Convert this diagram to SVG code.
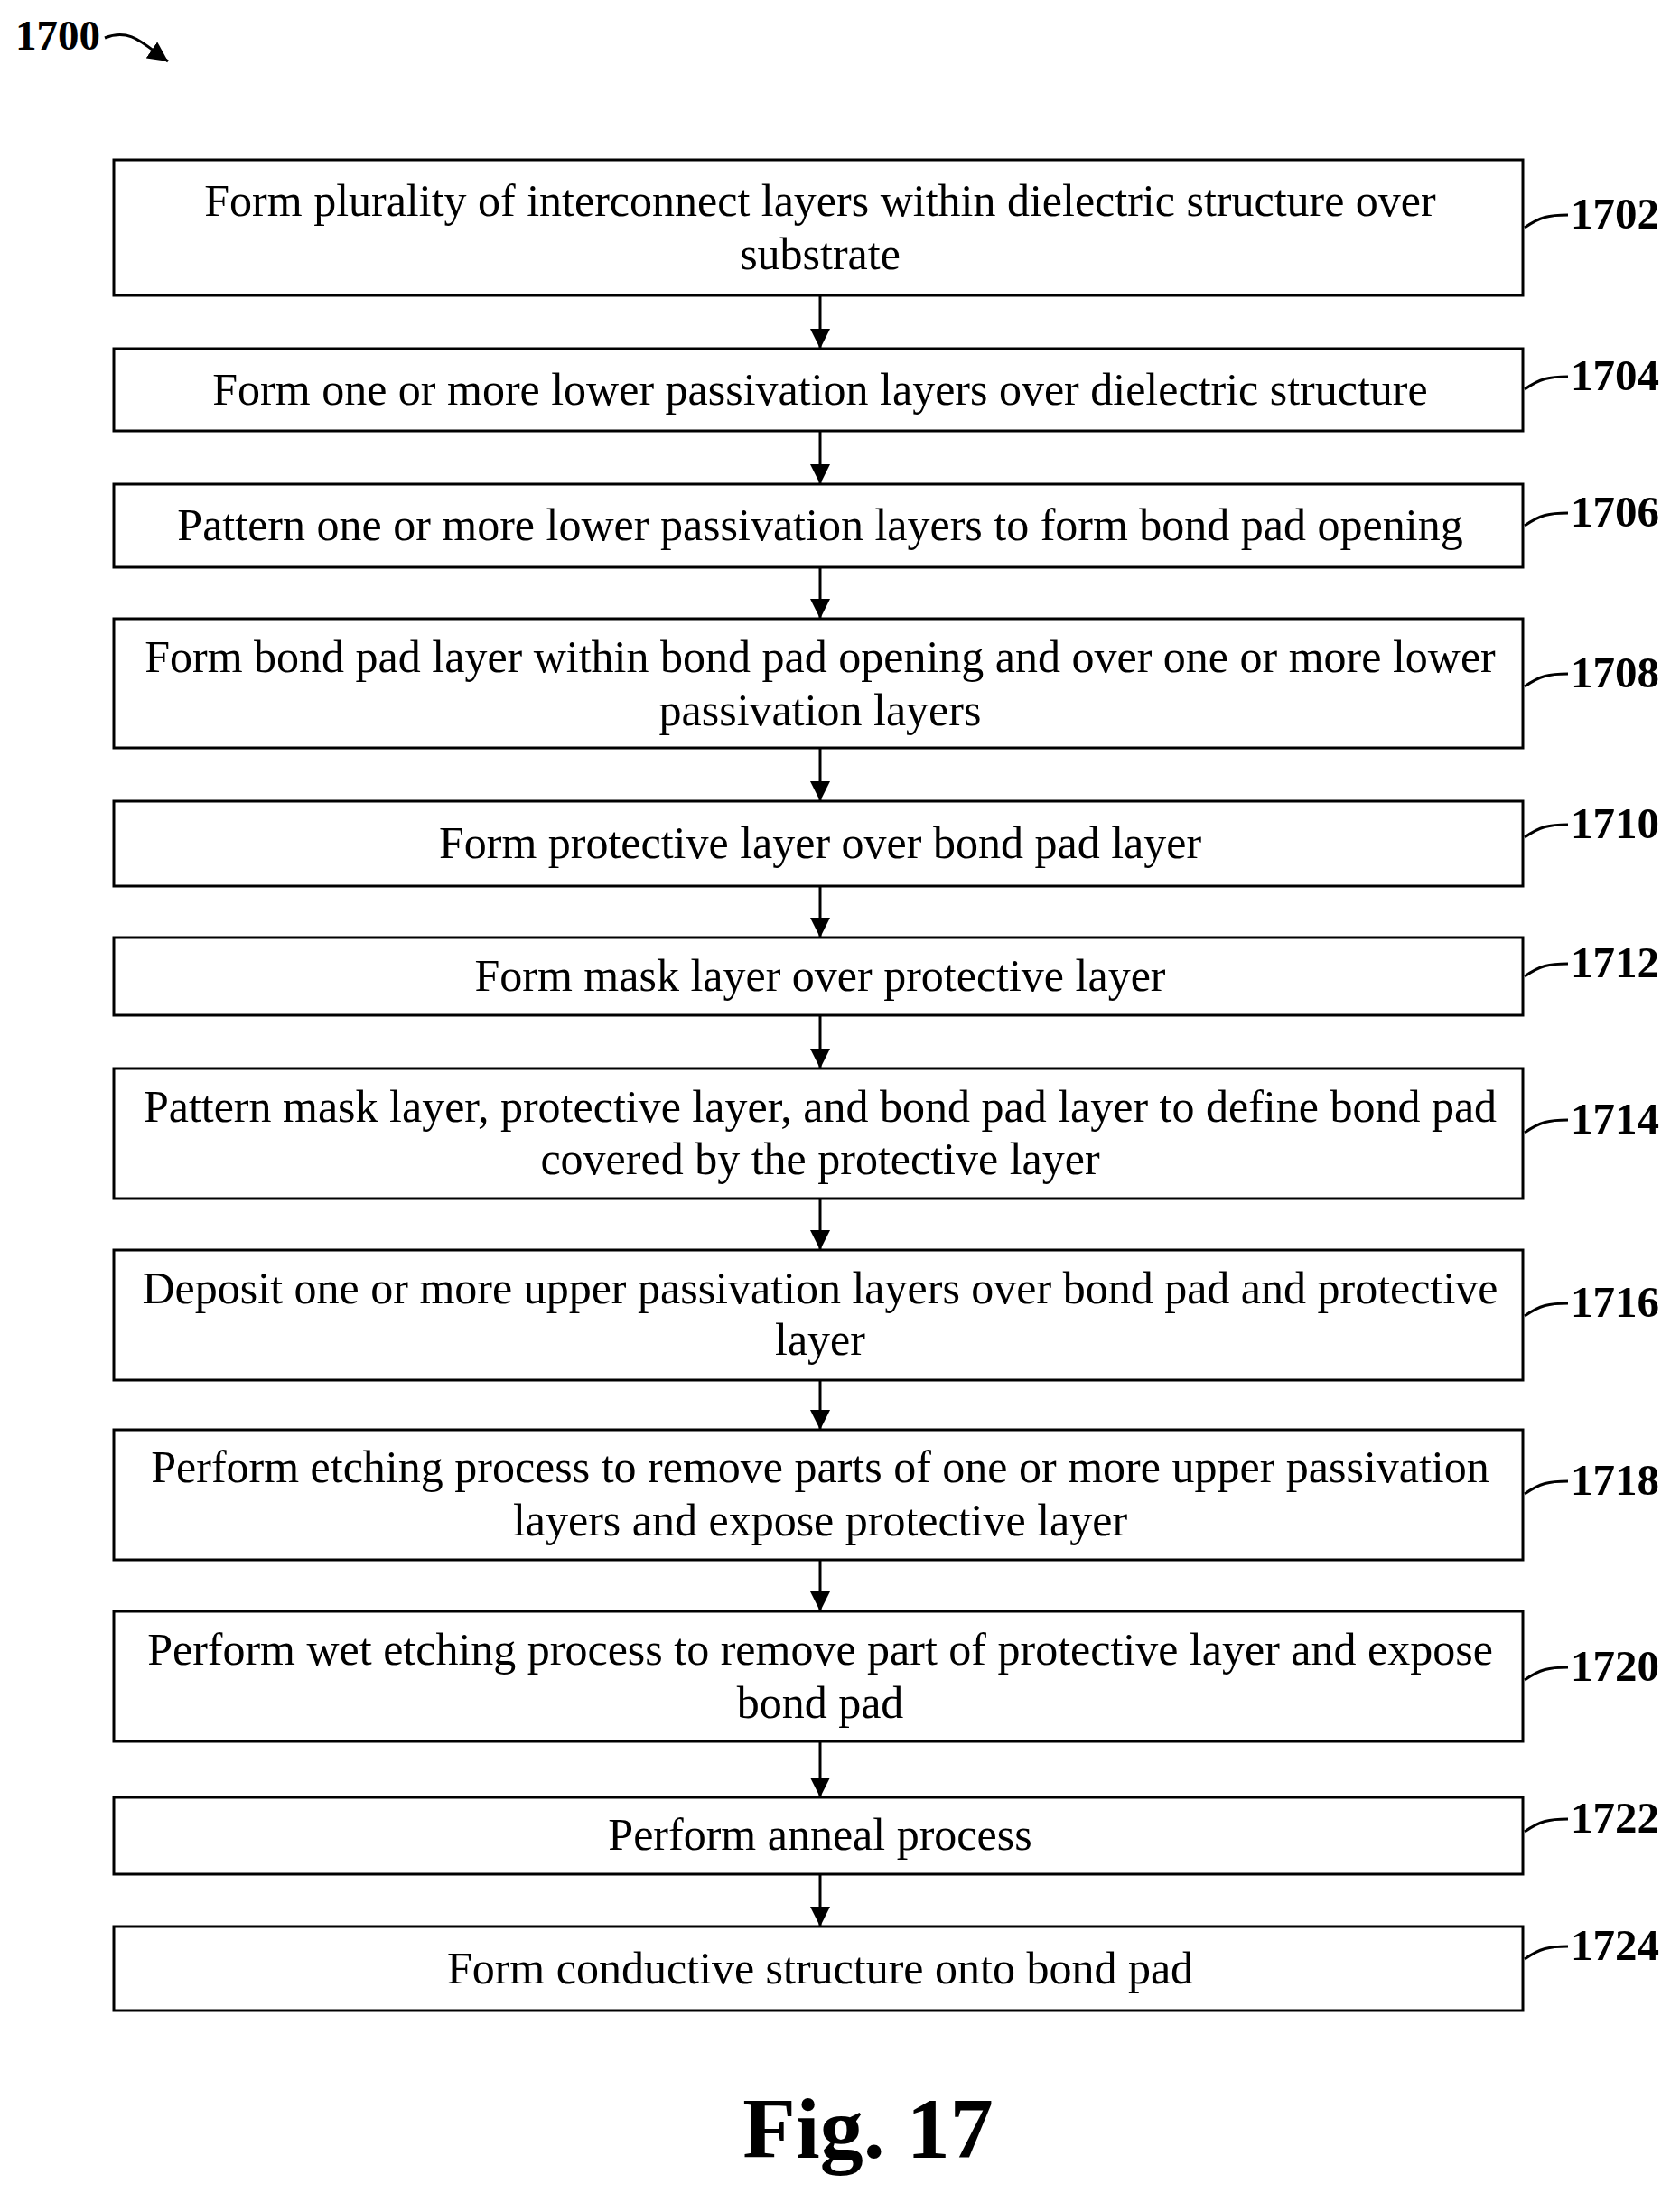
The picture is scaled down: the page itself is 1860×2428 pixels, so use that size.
<svg xmlns="http://www.w3.org/2000/svg" width="1860" height="2428" viewBox="0 0 1860 2428">
<style>
.b{fill:#fff;stroke:#000;stroke-width:3}
.t{font-family:"Liberation Serif",serif;font-size:50px;text-anchor:middle;dominant-baseline:central}
.l{font-family:"Liberation Serif",serif;font-size:49px;font-weight:bold;dominant-baseline:central}
.c{fill:none;stroke:#000;stroke-width:3}
</style>
<defs>
<marker id="h" viewBox="0 0 10 10" refX="10" refY="5" markerWidth="22" markerHeight="22" markerUnits="userSpaceOnUse" orient="auto"><path d="M0,0L10,5L0,10z"/></marker></defs>
<text x="17" y="39" class="l" style="font-size:47px">1700</text>
<path class="c" d="M116,42 C145,30 160,50 186,68" marker-end="url(#h)"/>
<g id="n1702"><rect class="b" x="126" y="177" width="1560" height="150"/><text class="t" x="908" y="222">Form plurality of interconnect layers within dielectric structure over</text><text class="t" x="908" y="281">substrate</text></g>
<g id="n1704"><rect class="b" x="126" y="386" width="1560" height="91"/><text class="t" x="908" y="431">Form one or more lower passivation layers over dielectric structure</text></g>
<g id="n1706"><rect class="b" x="126" y="536" width="1560" height="92"/><text class="t" x="908" y="581">Pattern one or more lower passivation layers to form bond pad opening</text></g>
<g id="n1708"><rect class="b" x="126" y="685" width="1560" height="143"/><text class="t" x="908" y="727">Form bond pad layer within bond pad opening and over one or more lower</text><text class="t" x="908" y="786">passivation layers</text></g>
<g id="n1710"><rect class="b" x="126" y="887" width="1560" height="94"/><text class="t" x="908" y="933">Form protective layer over bond pad layer</text></g>
<g id="n1712"><rect class="b" x="126" y="1038" width="1560" height="86"/><text class="t" x="908" y="1080">Form mask layer over protective layer</text></g>
<g id="n1714"><rect class="b" x="126" y="1183" width="1560" height="144"/><text class="t" x="908" y="1225">Pattern mask layer, protective layer, and bond pad layer to define bond pad</text><text class="t" x="908" y="1283">covered by the protective layer</text></g>
<g id="n1716"><rect class="b" x="126" y="1384" width="1560" height="144"/><text class="t" x="908" y="1426">Deposit one or more upper passivation layers over bond pad and protective</text><text class="t" x="908" y="1483">layer</text></g>
<g id="n1718"><rect class="b" x="126" y="1583" width="1560" height="144"/><text class="t" x="908" y="1624">Perform etching process to remove parts of one or more upper passivation</text><text class="t" x="908" y="1683">layers and expose protective layer</text></g>
<g id="n1720"><rect class="b" x="126" y="1784" width="1560" height="144"/><text class="t" x="908" y="1826">Perform wet etching process to remove part of protective layer and expose</text><text class="t" x="908" y="1885">bond pad</text></g>
<g id="n1722"><rect class="b" x="126" y="1990" width="1560" height="85"/><text class="t" x="908" y="2031">Perform anneal process</text></g>
<g id="n1724"><rect class="b" x="126" y="2133" width="1560" height="93"/><text class="t" x="908" y="2179">Form conductive structure onto bond pad</text></g>
<g id="labels">
<text class="l" x="1739" y="236">1702</text><text class="l" x="1739" y="415">1704</text><text class="l" x="1739" y="566">1706</text><text class="l" x="1739" y="744">1708</text><text class="l" x="1739" y="911">1710</text><text class="l" x="1739" y="1065">1712</text><text class="l" x="1739" y="1238">1714</text><text class="l" x="1739" y="1441">1716</text><text class="l" x="1739" y="1638">1718</text><text class="l" x="1739" y="1844">1720</text><text class="l" x="1739" y="2012">1722</text><text class="l" x="1739" y="2153">1724</text>
</g>
<g id="connectors">
<path class="c" d="M1688,252 C1705,240 1715,238 1736,238 M1688,431 C1705,419 1715,417 1736,417 M1688,582 C1705,570 1715,568 1736,568 M1688,760 C1705,748 1715,746 1736,746 M1688,927 C1705,915 1715,913 1736,913 M1688,1081 C1705,1069 1715,1067 1736,1067 M1688,1254 C1705,1242 1715,1240 1736,1240 M1688,1457 C1705,1445 1715,1443 1736,1443 M1688,1654 C1705,1642 1715,1640 1736,1640 M1688,1860 C1705,1848 1715,1846 1736,1846 M1688,2028 C1705,2016 1715,2014 1736,2014 M1688,2169 C1705,2157 1715,2155 1736,2155"/>
<g marker-end="url(#h)" class="c">
<path d="M908,327V386"/><path d="M908,477V536"/><path d="M908,628V685"/><path d="M908,828V887"/><path d="M908,981V1038"/><path d="M908,1124V1183"/><path d="M908,1327V1384"/><path d="M908,1528V1583"/><path d="M908,1727V1784"/><path d="M908,1928V1990"/><path d="M908,2075V2133"/>
</g>
</g>
<text x="961" y="2356" style="font-family:'Liberation Serif',serif;font-size:96px;font-weight:bold;text-anchor:middle;dominant-baseline:central">Fig. 17</text>
</svg>
